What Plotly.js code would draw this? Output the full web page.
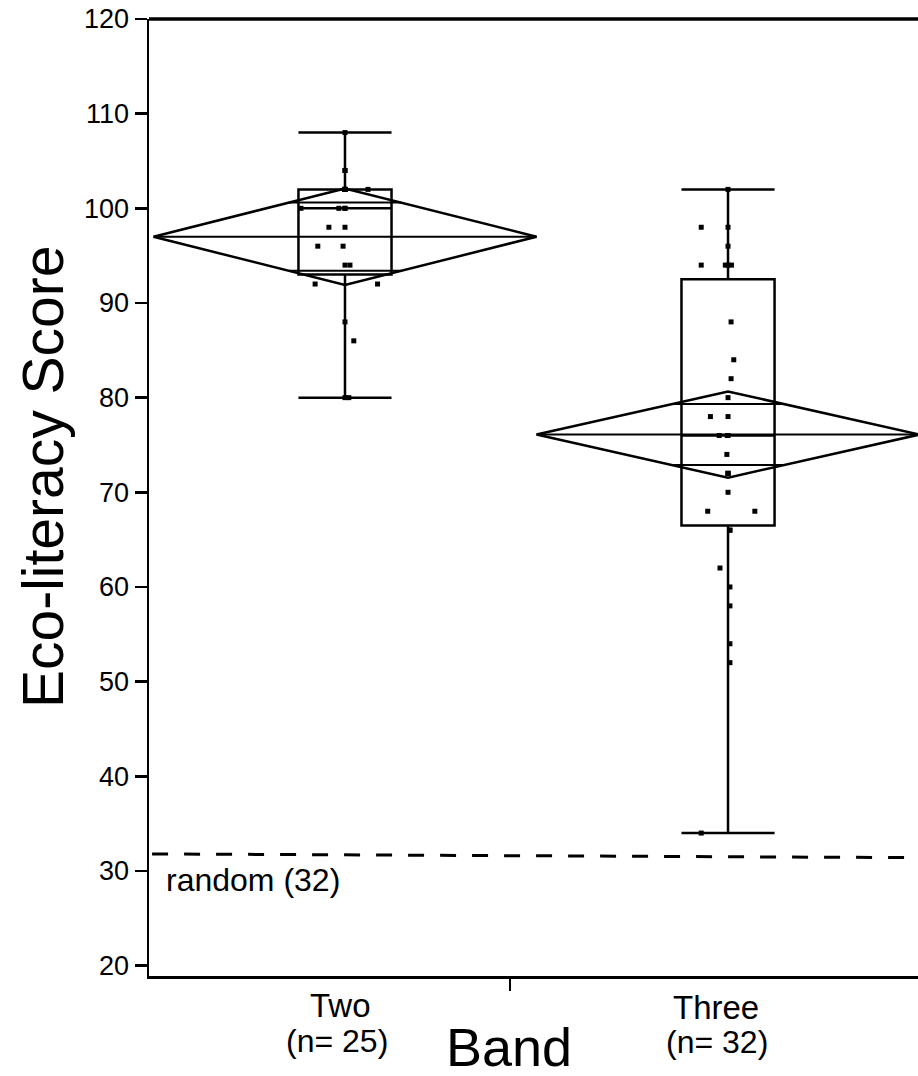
<!DOCTYPE html>
<html>
<head>
<meta charset="utf-8">
<script src="https://cdn.plot.ly/plotly-3.0.1.min.js"></script>
<style>html,body{margin:0;padding:0;background:#fff;}#chart{width:918px;height:1076px;}</style>
</head>
<body>
<div id="chart"></div>
<script>
// ---- data ----
var categories = ["Two", "Three"];
var groupN = [25, 32];
var categoryPos = [1, 2];

// box statistics
var q1 = [93, 66.5];
var median = [100, 76];
var q3 = [102, 92.5];
var whiskerLow = [80, 34];
var whiskerHigh = [108, 102];

// means diamonds (mean and 95% CI half-width)
var groupMean = [97, 76.1];
var ciHalf = [5.1, 4.55];

// individual scores and their horizontal jitter (category units)
var twoScores = [108, 104, 104, 102, 102, 102, 102, 102, 102, 100, 100, 100, 100, 98, 98, 96, 96, 94, 94, 92, 92, 88, 86, 80, 80];
var twoJitter = [0, 0, 0, 0, 0.06, 0, 0, 0, 0, -0.115, -0.016, 0, 0, -0.042, 0, -0.071, -0.005, 0, 0.013, -0.078, 0.085, 0, 0.023, 0, 0.01];
var threeScores = [102, 98, 98, 96, 94, 94, 94, 94, 88, 84, 82, 80, 78, 78, 76, 76, 76, 74, 72, 72, 72, 70, 68, 68, 66, 66, 62, 60, 58, 54, 52, 34];
var threeJitter = [0, -0.07, 0, 0, -0.07, -0.007, 0.009, 0, 0.008, 0.015, 0.008, 0, -0.046, 0, -0.023, -0.002, 0, -0.003, 0, 0, 0, 0, -0.053, 0.07, 0.005, 0.005, -0.021, 0.005, 0.005, 0.005, 0.005, -0.07];

// chance reference line (endpoints as drawn) and label
var randomLine = [31.8, 31.4];
var randomLabel = "random (32)";

var yTicks = [20, 30, 40, 50, 60, 70, 80, 90, 100, 110, 120];
var xTickPos = [1.43];

// ---- build traces ----
var FONT = "Liberation Sans, Arial, sans-serif";
var LW = 2.5;
var traces = [];

traces.push({
  type: "box",
  x: categoryPos,
  q1: q1, median: median, q3: q3,
  lowerfence: whiskerLow, upperfence: whiskerHigh,
  width: 0.243,
  whiskerwidth: 1,
  boxpoints: false,
  fillcolor: "rgba(0,0,0,0)",
  line: {color: "#000", width: LW},
  hoverinfo: "skip",
  showlegend: false
});

for (var i = 0; i < categoryPos.length; i++) {
  var c = categoryPos[i], m = groupMean[i], h = ciHalf[i];
  // diamond outline
  traces.push({
    type: "scatter", mode: "lines",
    x: [c - 0.5, c, c + 0.5, c, c - 0.5],
    y: [m, m + h, m, m - h, m],
    line: {color: "#000", width: LW},
    hoverinfo: "skip", showlegend: false
  });
  // mean line
  traces.push({
    type: "scatter", mode: "lines",
    x: [c - 0.5, c + 0.5], y: [m, m],
    line: {color: "#000", width: 2},
    hoverinfo: "skip", showlegend: false
  });
  // overlap marks
  var o = h / Math.SQRT2, hw = 0.5 * (1 - 1 / Math.SQRT2);
  traces.push({
    type: "scatter", mode: "lines",
    x: [c - hw, c + hw, null, c - hw, c + hw],
    y: [m + o, m + o, null, m - o, m - o],
    line: {color: "#000", width: 2},
    hoverinfo: "skip", showlegend: false
  });
}

function pts(scores, jitter, c) {
  return {
    type: "scatter", mode: "markers",
    x: scores.map(function (s, k) { return c + jitter[k]; }),
    y: scores,
    marker: {symbol: "square", size: 5, color: "#000", line: {width: 0}},
    hoverinfo: "y", showlegend: false
  };
}
traces.push(pts(twoScores, twoJitter, categoryPos[0]));
traces.push(pts(threeScores, threeJitter, categoryPos[1]));

var annotations = [
  {text: "Eco-literacy Score", textangle: -90, xref: "paper", yref: "paper",
   x: (43 - 149) / 769, y: (976 - 477) / 957, xanchor: "center", yanchor: "middle",
   showarrow: false, font: {family: FONT, size: 57, color: "#000"}},
  {text: "Band", xref: "paper", yref: "paper", x: (509 - 149) / 769, y: (976 - 1047) / 957,
   xanchor: "center", yanchor: "middle", showarrow: false, font: {family: FONT, size: 54, color: "#000"}},
  {text: categories[0], xref: "paper", yref: "paper", x: (340 - 149) / 769, y: (976 - 1005) / 957,
   xanchor: "center", yanchor: "middle", showarrow: false, font: {family: FONT, size: 33, color: "#000"}},
  {text: "(n= " + groupN[0] + ")", xref: "paper", yref: "paper", x: (337 - 149) / 769, y: (976 - 1041) / 957,
   xanchor: "center", yanchor: "middle", showarrow: false, font: {family: FONT, size: 32, color: "#000"}},
  {text: categories[1], xref: "paper", yref: "paper", x: (716 - 149) / 769, y: (976 - 1007.5) / 957,
   xanchor: "center", yanchor: "middle", showarrow: false, font: {family: FONT, size: 33, color: "#000"}},
  {text: "(n= " + groupN[1] + ")", xref: "paper", yref: "paper", x: (717 - 149) / 769, y: (976 - 1042) / 957,
   xanchor: "center", yanchor: "middle", showarrow: false, font: {family: FONT, size: 32, color: "#000"}},
  {text: randomLabel, xref: "paper", yref: "paper", x: (164 - 149) / 769, y: (976 - 880) / 957,
   xanchor: "left", yanchor: "middle", showarrow: false, font: {family: FONT, size: 32, color: "#000"}}
];

var shapes = [
  {type: "line", xref: "paper", yref: "y", x0: 0.004, x1: 1, y0: randomLine[0], y1: randomLine[1],
   line: {color: "#000", width: 3, dash: "16px,16px"}},
  {type: "line", xref: "paper", yref: "paper", x0: 0, x1: 1, y0: 1, y1: 1,
   line: {color: "#000", width: 3.5}}
];

var layout = {
  width: 918, height: 1076,
  margin: {l: 149, r: 0, t: 19, b: 100, pad: 0},
  paper_bgcolor: "#fff", plot_bgcolor: "#fff",
  showlegend: false,
  font: {family: FONT, color: "#000"},
  xaxis: {
    range: [0.4883, 2.496], showgrid: false, zeroline: false,
    showline: true, linecolor: "#000", linewidth: 2.5,
    tickvals: xTickPos, ticktext: [""], ticks: "outside", ticklen: 12, tickwidth: 2, tickcolor: "#000"
  },
  yaxis: {
    range: [18.9, 120], showgrid: false, zeroline: false,
    showline: true, linecolor: "#000", linewidth: 2.5,
    tickvals: yTicks, ticks: "outside", ticklen: 12, tickwidth: 2.5, tickcolor: "#000",
    tickfont: {family: FONT, size: 27, color: "#000"}
  },
  annotations: annotations,
  shapes: shapes
};

Plotly.newPlot("chart", traces, layout, {staticPlot: true, displayModeBar: false});
</script>
</body>
</html>
